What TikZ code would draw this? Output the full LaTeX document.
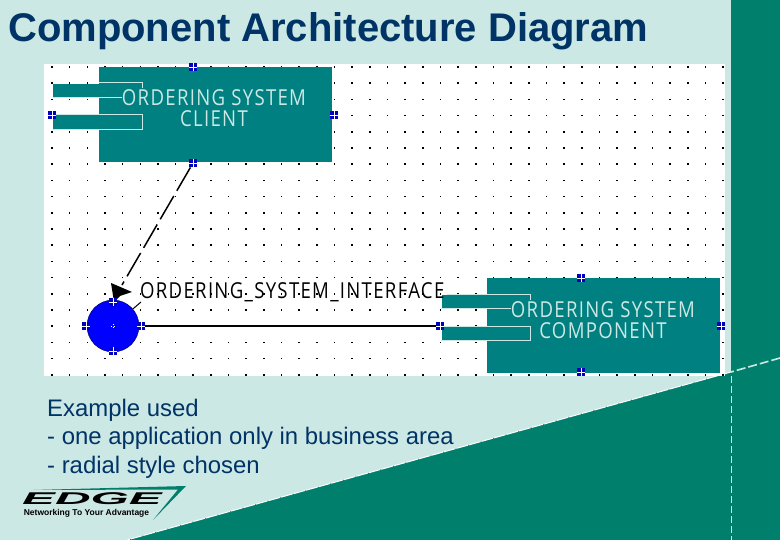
\documentclass[tikz,border=0pt]{standalone}
\usepackage{fontspec}
\setmainfont{Liberation Sans}
\newfontfamily\umlfont[LetterSpace=7]{Open Sans}
\usetikzlibrary{positioning}
\definecolor{paleBg}{HTML}{CCE8E4}
\definecolor{bandGreen}{HTML}{00806C}
\definecolor{boxTeal}{HTML}{008080}
\definecolor{titleBlue}{HTML}{003366}
\definecolor{handleBlue}{HTML}{0000C0}

\begin{document}
\begin{tikzpicture}[
  x=1pt, y=-1pt,
  box/.style={fill=boxTeal, minimum width=233pt, minimum height=95pt, inner sep=0pt},
  tab/.style={fill=boxTeal, minimum width=89pt, minimum height=13.5pt, inner sep=0pt},
  lbl/.style={font=\umlfont\fontsize{22}{21}\selectfont, xscale=0.845, text=paleBg, align=center, inner sep=0pt},
  edge/.style={line width=1.5pt, black},
  handle/.style={fill=handleBlue, minimum size=8.5pt, inner sep=0pt,
    path picture={\draw[white, line width=0.5pt]
      (path picture bounding box.west) -- (path picture bounding box.east)
      (path picture bounding box.north) -- (path picture bounding box.south);}},
  body/.style={font=\fontsize{23.9}{28.4}\selectfont, text=titleBlue, align=left, inner sep=0pt, anchor=north west}
]
  \useasboundingbox (0,0) rectangle (780,540);
  \fill[paleBg] (0,0) rectangle (780,540);
  \fill[bandGreen] (731,0) -- (780,0) -- (780,540) -- (127,540) -- (731,372) -- cycle;
  \fill[white] (44,64) rectangle (725,376);
  \fill[bandGreen] (725,374.5) -- (731,372) -- (731,376) -- (725,376) -- cycle;
  % dashed edges of the band
  \draw[paleBg, line width=1.6pt, dash pattern=on 9pt off 3pt] (780,358) -- (731,372);
  \draw[white, line width=1pt, dash pattern=on 12pt off 1pt] (731,372) -- (127,540);
  \draw[paleBg, line width=0.8pt, dash pattern=on 7pt off 3pt] (731,376) -- (731,540);

  % grid
  \foreach \i in {0,...,38}
    \foreach \j in {0,...,19}
      \fill ({52+17.66*\i-0.8},{67+16.2*\j-0.8}) rectangle +(1.6,1.6);

  \node[anchor=west, inner sep=0pt, font=\bfseries\fontsize{40}{40}\selectfont, text=titleBlue] (title) at (8,31.5) {Component Architecture Diagram};

  % client
  \node[box] (client) at (215.5,114.5) {};
  \node[tab] (clientTabA) at (97.5,90.5) {};
  \node[tab] (clientTabB) at (97.5,122) {};
  \draw[paleBg, line width=1pt] (99,83) -- (142,83) -- (142,88) (53,97.5) -- (122,97.5)
    (53,115) -- (142,115) -- (142,129.5) -- (53,129.5);
  \node[lbl] (clientLbl) at (214,108) {ORDERING SYSTEM\\CLIENT};

  % component
  \node[box] (comp) at (603.5,326) {};
  \node[tab] (compTabA) at (486,301.5) {};
  \node[tab] (compTabB) at (486,334) {};
  \draw[paleBg, line width=1pt] (447,295) -- (530,295) -- (530,300) (441,308.5) -- (511,308.5)
    (441,327) -- (530,327) -- (530,341) -- (441,341);
  \node[lbl] (compLbl) at (603,320) {ORDERING SYSTEM\\COMPONENT};

  % hub
  \node[circle, fill=blue, draw=black!70!blue, minimum size=52pt, inner sep=0pt] (hub) at (113,326) {};
  \node[anchor=west, inner sep=0pt, xscale=0.845, font=\umlfont\fontsize{22}{21}\selectfont] (hubLbl) at (140,292) {ORDERING\_SYSTEM\_INTERFACE};
  \fill (111,283) -- (132,292) -- (120,296) -- (114,302) -- cycle;
  \coordinate (tipEnd) at (122,285);
  \coordinate (tailEnd) at (141,302);

  % handles
  \foreach \n/\x/\y in {cN/193/67, cW/52/115, cE/334/115, cS/193/163,
                        pN/581/278, pW/440/326, pE/721/326, pS/581/372,
                        hN/113/302, hW/86/326, hE/141/326, hS/113/351}
    \node[handle] (\n) at (\x,\y) {};
  \node[minimum size=4pt, inner sep=0pt, path picture={\draw[white, line width=0.7pt, dotted] (path picture bounding box.west) -- (path picture bounding box.east) (path picture bounding box.north) -- (path picture bounding box.south);}] (hubMark) at (hub.center) {};

  \draw[edge, dash pattern=on 27pt off 6pt] (cS) -- (tipEnd);
  \draw[edge, line width=1pt] (hub) -- (tailEnd);
  \draw[edge] (hE) -- (pW);

  \node[body] (note) at (47,399) {Example used\\- one application only in business area\\- radial style chosen};

  % logo
  \fill[bandGreen] (33,490) -- (186,486) -- (153,520) -- (178,489.5) -- cycle;
  \node[inner sep=0pt, xscale=2.9, font=\bfseries\itshape\fontsize{17}{17}\selectfont] (logo) at (92,498.5) {EDGE};
  \node[inner sep=0pt, font=\bfseries\fontsize{8.5}{9}\selectfont] (slogan) at (86.5,513.5) {Networking To Your Advantage};
\end{tikzpicture}
\end{document}
